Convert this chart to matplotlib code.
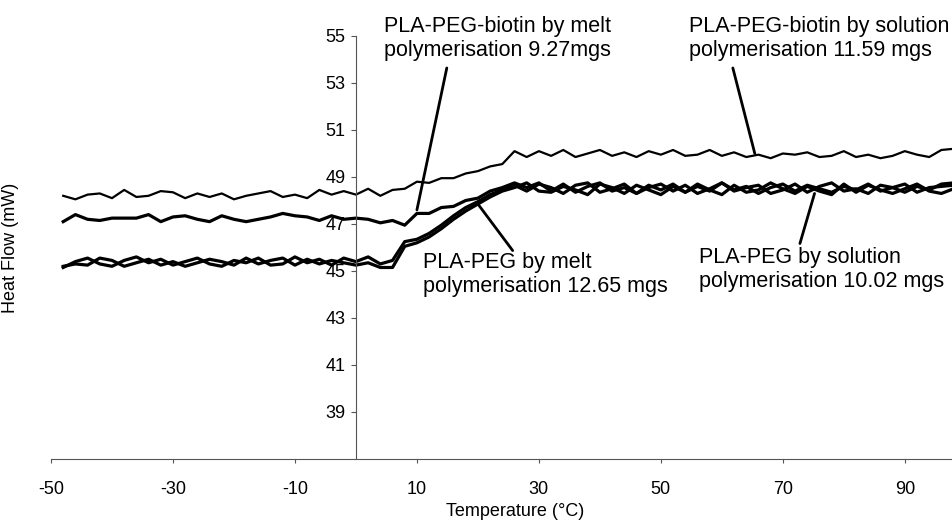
import numpy as np
import matplotlib
matplotlib.use('Agg')
import matplotlib.pyplot as plt

plt.rcParams['font.family'] = ['Liberation Sans', 'DejaVu Sans']
plt.rcParams['axes.unicode_minus'] = False

# temperature grid (every 2 deg C)
temp = np.arange(-48, 99, 2)

# PLA-PEG-biotin by solution polymerisation 11.59 mgs
biotin_sol = [48.20, 48.05, 48.25, 48.30, 48.10, 48.45, 48.15, 48.20, 48.40, 48.35,
              48.10, 48.30, 48.15, 48.30, 48.05, 48.20, 48.30, 48.40, 48.15, 48.25,
              48.10, 48.45, 48.25, 48.40, 48.25, 48.50, 48.20, 48.45, 48.50,
              48.80, 48.75, 48.95, 48.95, 49.15, 49.25, 49.45, 49.55, 50.10, 49.85,
              50.10, 49.90, 50.15, 49.85, 50.00, 50.15, 49.90, 50.05, 49.85, 50.10,
              49.95, 50.15, 49.90, 49.95, 50.15, 49.90, 50.05, 49.85, 49.95, 49.80,
              50.00, 49.95, 50.05, 49.85, 49.90, 50.10, 49.85, 49.95, 49.80, 49.90,
              50.10, 49.95, 49.85, 50.15, 50.20]

# PLA-PEG-biotin by melt polymerisation 9.27mgs
biotin_melt = [47.10, 47.40, 47.20, 47.15, 47.25, 47.25, 47.25, 47.40, 47.10, 47.30,
               47.35, 47.20, 47.10, 47.35, 47.20, 47.10, 47.20, 47.30, 47.45, 47.35,
               47.30, 47.15, 47.35, 47.20, 47.25, 47.20, 47.05, 47.15, 46.95,
               47.45, 47.45, 47.70, 47.75, 48.00, 48.10, 48.40, 48.55, 48.75,
               48.55, 48.75, 48.40, 48.70, 48.35, 48.60, 48.75, 48.40, 48.55, 48.30,
               48.65, 48.45, 48.70, 48.35, 48.60, 48.40, 48.75, 48.45, 48.60, 48.30,
               48.55, 48.70, 48.40, 48.65, 48.50, 48.35, 48.60, 48.45, 48.70, 48.40,
               48.55, 48.35, 48.60, 48.45, 48.70, 48.75]

# PLA-PEG by melt polymerisation 12.65 mgs
peg_melt = [45.15, 45.40, 45.55, 45.30, 45.20, 45.45, 45.60, 45.35, 45.50, 45.25,
            45.40, 45.55, 45.30, 45.20, 45.45, 45.35, 45.55, 45.25, 45.30, 45.60,
            45.35, 45.50, 45.25, 45.55, 45.40, 45.60, 45.30, 45.45,
            46.25, 46.35, 46.60, 46.95, 47.35, 47.70, 47.95, 48.25, 48.45, 48.65,
            48.40, 48.70, 48.55, 48.30, 48.65, 48.75, 48.35, 48.50, 48.70, 48.30,
            48.55, 48.70, 48.40, 48.65, 48.30, 48.50, 48.75, 48.40, 48.55, 48.65,
            48.30, 48.45, 48.70, 48.35, 48.60, 48.75, 48.40, 48.50, 48.30, 48.65,
            48.55, 48.70, 48.35, 48.55, 48.60, 48.65]

# PLA-PEG by solution polymerisation 10.02 mgs
peg_sol = [45.20, 45.30, 45.25, 45.55, 45.45, 45.20, 45.35, 45.50, 45.25, 45.40,
           45.20, 45.35, 45.50, 45.40, 45.25, 45.55, 45.30, 45.45, 45.55, 45.25,
           45.50, 45.30, 45.45, 45.35, 45.25, 45.35, 45.15, 45.15,
           46.05, 46.20, 46.45, 46.80, 47.20, 47.55, 47.85, 48.15, 48.40, 48.55,
           48.75, 48.40, 48.35, 48.60, 48.45, 48.25, 48.70, 48.55, 48.30, 48.65,
           48.45, 48.25, 48.60, 48.35, 48.70, 48.45, 48.25, 48.65, 48.35, 48.45,
           48.75, 48.50, 48.30, 48.60, 48.40, 48.25, 48.70, 48.35, 48.65, 48.45,
           48.30, 48.50, 48.70, 48.40, 48.30, 48.50]

labels = ['PLA-PEG-biotin by melt\npolymerisation 9.27mgs',
          'PLA-PEG-biotin by solution\npolymerisation 11.59 mgs',
          'PLA-PEG by melt\npolymerisation 12.65 mgs',
          'PLA-PEG by solution\npolymerisation 10.02 mgs']
label_pos = [(4.6, 54.9), (54.6, 54.9), (11.0, 44.85), (56.2, 45.06)]
line_from = [(14.9, 53.64), (61.8, 53.64), (25.7, 45.87), (72.8, 46.17)]
line_to = [(10.0, 47.6), (65.4, 50.0), (19.8, 47.92), (75.2, 48.3)]

fig = plt.figure(figsize=(9.53, 5.25), dpi=100)
ax = fig.add_axes([51/953, 1-459/525, 902/953, 423/525])

ax.plot(temp, biotin_sol, color='black', lw=1.6)
ax.plot(temp, biotin_melt, color='black', lw=2.3)
ax.plot(temp, peg_melt, color='black', lw=2.3)
ax.plot(temp, peg_sol, color='black', lw=2.3)

for txt, pos in zip(labels, label_pos):
    ax.text(pos[0], pos[1], txt, fontsize=15.5, ha='left', va='center',
            linespacing=1.15, clip_on=False)
for a, b in zip(line_from, line_to):
    ax.annotate('', xy=b, xytext=a,
                arrowprops=dict(arrowstyle='-', lw=2, color='black', shrinkA=0, shrinkB=0))

ax.set_xlim(-50, 97.9)
ax.set_ylim(37, 55)
ax.set_xticks(np.arange(-50, 91, 20))
ax.set_yticks(np.arange(39, 56, 2))

ax.spines['top'].set_visible(False)
ax.spines['right'].set_visible(False)
ax.spines['left'].set_position(('data', 0))
ax.spines['left'].set_color('#555555')
ax.spines['bottom'].set_color('#555555')
ax.spines['left'].set_linewidth(0.8)
ax.spines['bottom'].set_linewidth(0.8)

ax.tick_params(axis='y', direction='out', length=3.5, pad=4, labelsize=13, color='#555555')
ax.tick_params(axis='x', direction='out', length=3, pad=13, labelsize=13, color='#555555')

ax.set_xlabel('Temperature (°C)', fontsize=13)
ax.set_ylabel('Heat Flow (mW)', fontsize=13)
ax.xaxis.set_label_coords(0.514, -0.105)
ax.yaxis.set_label_coords(-0.035, 0.5)

plt.savefig('out.png', dpi=100)
